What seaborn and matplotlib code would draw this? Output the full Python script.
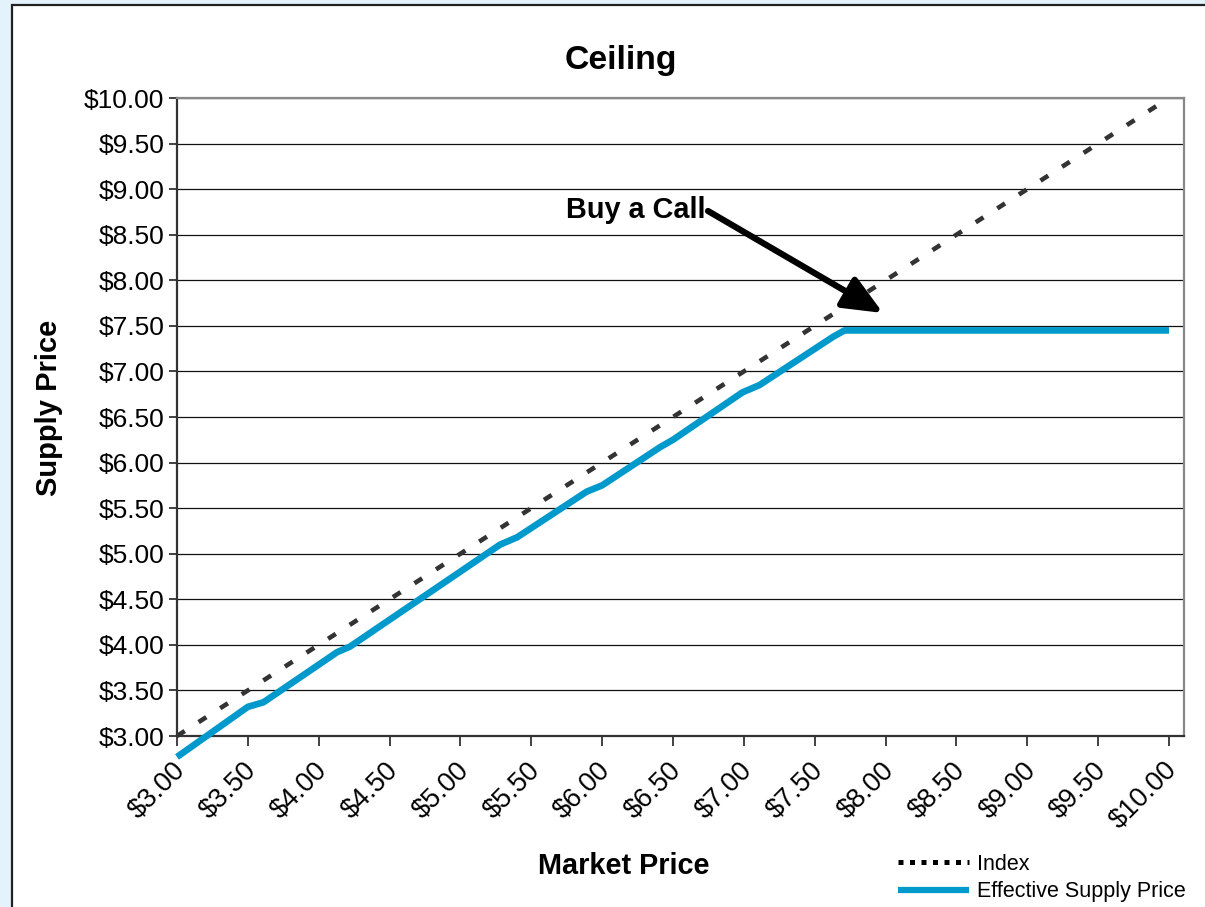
import matplotlib
matplotlib.use("Agg")
import matplotlib.pyplot as plt
from matplotlib.patches import Rectangle, FancyArrowPatch
from matplotlib.lines import Line2D
from matplotlib.transforms import ScaledTranslation
import seaborn as sns
import pandas as pd

# ---- data ----
market_price = [3.00, 3.50, 3.61, 4.13, 4.22, 5.28, 5.40, 5.89, 6.00, 6.41, 6.50,
                6.99, 7.11, 7.63, 7.71, 8.50, 9.00, 9.50, 10.00]
index_price = [3.00, 3.50, 3.61, 4.13, 4.22, 5.28, 5.40, 5.89, 6.00, 6.41, 6.50,
               6.99, 7.11, 7.63, 7.71, 8.50, 9.00, 9.50, 10.00]
effective_price = [2.77, 3.32, 3.37, 3.92, 3.98, 5.10, 5.18, 5.68, 5.75, 6.17, 6.25,
                   6.77, 6.85, 7.38, 7.45, 7.45, 7.45, 7.45, 7.45]
x_ticks = [3.0, 3.5, 4.0, 4.5, 5.0, 5.5, 6.0, 6.5, 7.0, 7.5, 8.0, 8.5, 9.0, 9.5, 10.0]
y_ticks = [3.0, 3.5, 4.0, 4.5, 5.0, 5.5, 6.0, 6.5, 7.0, 7.5, 8.0, 8.5, 9.0, 9.5, 10.0]
series_names = ["Index", "Effective Supply Price"]

df = pd.DataFrame({"Market Price": market_price,
                   "Index": index_price,
                   "Effective Supply Price": effective_price})

sns.set_theme(style="white")
plt.rcParams["font.family"] = ["Liberation Sans", "DejaVu Sans"]
plt.rcParams["text.color"] = "black"
plt.rcParams["xtick.color"] = "black"
plt.rcParams["ytick.color"] = "black"
plt.rcParams["xtick.labelcolor"] = "black"
plt.rcParams["ytick.labelcolor"] = "black"

W, H = 1205, 907
fig = plt.figure(figsize=(W / 100, H / 100), dpi=100)
fig.patch.set_facecolor("#E4F2FC")
# white panel with dark border (extends past right/bottom edges)
fig.patches.append(Rectangle((12 / W, -0.05), 1.2, 1 - 5 / H + 0.05,
                             transform=fig.transFigure, facecolor="white",
                             edgecolor="#222222", lw=1.6, zorder=-1))

ax = fig.add_axes([177 / W, 171 / H, 1007 / W, 638 / H])
ax.set_zorder(1)
ax.set_facecolor("white")

blue = "#0099CC"
dark = "#333333"

sns.lineplot(data=df, x="Market Price", y="Index", ax=ax, color=dark,
             lw=3.3, sort=True, clip_on=False, zorder=3)
ax.lines[-1].set_dashes((2.0, 3.6))
ax.lines[-1].set_dash_capstyle("butt")
sns.lineplot(data=df, x="Market Price", y="Effective Supply Price", ax=ax,
             color=blue, lw=4.8, sort=True, clip_on=False, zorder=4)
ax.lines[-1].set_solid_capstyle("butt")

ax.set_xlim(3.0, 10.106)
ax.set_ylim(3.0, 10.0)
ax.set_xticks(x_ticks)
ax.set_yticks(y_ticks)
ax.set_xticklabels([f"${v:.2f}" for v in x_ticks], rotation=45, ha="right",
                   rotation_mode="anchor", fontsize=19.5)
ax.set_yticklabels([f"${v:.2f}" for v in y_ticks], fontsize=19)
ax.tick_params(axis="x", direction="out", length=7, width=1.3, color="#333333",
               pad=8, bottom=True)
ax.tick_params(axis="y", direction="out", length=6, width=1.3, color="#333333",
               pad=3, left=True)
offset = ScaledTranslation(-5 / 100, 0, fig.dpi_scale_trans)
for lab in ax.get_xticklabels():
    lab.set_transform(lab.get_transform() + offset)

ax.yaxis.grid(True, color="#111111", lw=0.9)
ax.xaxis.grid(False)
ax.set_axisbelow(True)

for s in ["left", "bottom"]:
    ax.spines[s].set_color("#333333")
    ax.spines[s].set_linewidth(1.6)
for s in ["top", "right"]:
    ax.spines[s].set_color("#888888")
    ax.spines[s].set_linewidth(1.6)
    ax.spines[s].set_visible(True)

ax.set_xlabel("")
ax.set_ylabel("")
fig.text(621 / W, 1 - 60 / H, "Ceiling", fontsize=24.3, fontweight="bold",
         ha="center", va="center", color="black")
fig.text(624 / W, 1 - 866 / H, "Market Price", fontsize=20.8, fontweight="bold",
         ha="center", va="center", color="black")
fig.text(49 / W, 1 - 408 / H, "Supply Price", fontsize=21, fontweight="bold",
         ha="center", va="center", rotation=90, color="black")

# annotation
fig.text(636 / W, 1 - 210 / H, "Buy a Call", fontsize=20.8, fontweight="bold",
         ha="center", va="center", color="black", zorder=6)
arrow = FancyArrowPatch((708 / W, 1 - 211 / H), (883 / W, 1 - 313 / H),
                        transform=fig.transFigure,
                        arrowstyle="-|>,head_length=15,head_width=6.5",
                        mutation_scale=1.6, lw=4.5, color="black",
                        shrinkA=0, shrinkB=0, capstyle="round", zorder=6)
fig.patches.append(arrow)

# legend
handles = [Line2D([], [], color="black", lw=3.6, dashes=(1.0, 1.3),
                  dash_capstyle="butt"),
           Line2D([], [], color=blue, lw=4.5, solid_capstyle="butt")]
fig.legend(handles, series_names, loc="center left",
           bbox_to_anchor=(898 / W, 1 - 878 / H), frameon=False,
           fontsize=15.5, handlelength=3.3, handletextpad=0.35,
           labelspacing=0.32, borderpad=0, borderaxespad=0)

fig.savefig("out.png", dpi=100, facecolor=fig.get_facecolor())
